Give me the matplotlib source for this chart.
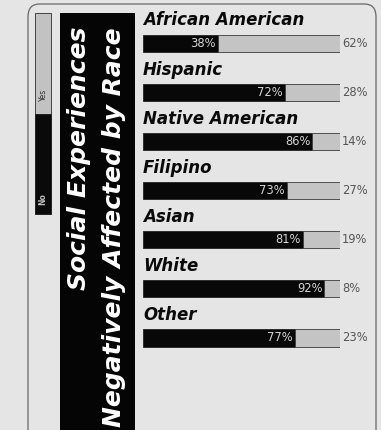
import numpy as np
import matplotlib.pyplot as plt
from matplotlib.patches import FancyBboxPatch, Rectangle

# Data
groups = ['African American', 'Hispanic', 'Native American', 'Filipino',
          'Asian', 'White', 'Other']
no_pct = [38, 72, 86, 73, 81, 92, 77]
yes_pct = [62, 28, 14, 27, 19, 8, 23]

W, H = 381, 430
bg = '#e5e5e5'
fig = plt.figure(figsize=(W / 100, H / 100), dpi=100)
fig.patch.set_facecolor(bg)

def fx(px):
    return px / W

def fy(py):
    return 1 - py / H

# Rounded border
border = FancyBboxPatch((fx(28), fy(445)), fx(348), (445 - 4) / H,
                        boxstyle='round,pad=0,rounding_size=0.03',
                        transform=fig.transFigure, fc='none', ec='#666666', lw=0.9)
fig.patches.append(border)

# Legend strip (Yes / No)
fig.patches.append(Rectangle((fx(35), fy(114)), fx(16), 101 / H, transform=fig.transFigure,
                             fc='#c2c2c2', ec='#444444', lw=0.7))
fig.patches.append(Rectangle((fx(35), fy(214)), fx(16), 100 / H, transform=fig.transFigure,
                             fc='#0a0a0a', ec='#222222', lw=0.7))
fig.text(fx(43), fy(95), 'Yes', rotation=90, ha='center', va='center',
         fontsize=5.5, color='#333333')
fig.text(fx(43), fy(199), 'No', rotation=90, ha='center', va='center',
         fontsize=5.5, color='#bbbbbb', fontweight='bold')

# Title panel
fig.patches.append(Rectangle((fx(60), 0), fx(75), fy(13), transform=fig.transFigure,
                             fc='#050505', ec='none'))
fig.text(fx(79), fy(27), 'Social Experiences', rotation=90, rotation_mode='anchor',
         ha='right', va='center', fontsize=18, color='white', fontweight='bold',
         fontstyle='italic')
fig.text(fx(114), fy(27), 'Negatively Affected by Race', rotation=90, rotation_mode='anchor',
         ha='right', va='center', fontsize=18, color='white', fontweight='bold',
         fontstyle='italic')

# Bars
ax = fig.add_axes([fx(143), fy(362.5), fx(197), (362.5 - 19) / H])
ax.set_facecolor('none')
y = np.arange(len(groups))
ax.barh(y, no_pct, height=0.35, color='#080808', edgecolor='#222222', lw=0.6)
ax.barh(y, yes_pct, left=no_pct, height=0.35, color='#c4c4c4',
        edgecolor='#3a3a3a', lw=0.6)
ax.set_xlim(0, 100)
ax.set_ylim(len(groups) - 0.5, -0.5)
ax.axis('off')

for i, g in enumerate(groups):
    ax.text(0, i - 0.47, g, ha='left', va='center', fontsize=12,
            fontweight='heavy', fontstyle='italic', color='#0a0a0a', clip_on=False)
    ax.text(no_pct[i] - 1.0, i, f'{no_pct[i]}%', ha='right', va='center',
            fontsize=8.3, color='#d5d5d5')
    ax.text(101, i, f'{yes_pct[i]}%', ha='left', va='center',
            fontsize=8.3, color='#555555', clip_on=False)

plt.savefig('out.png', dpi=100, facecolor=bg)
